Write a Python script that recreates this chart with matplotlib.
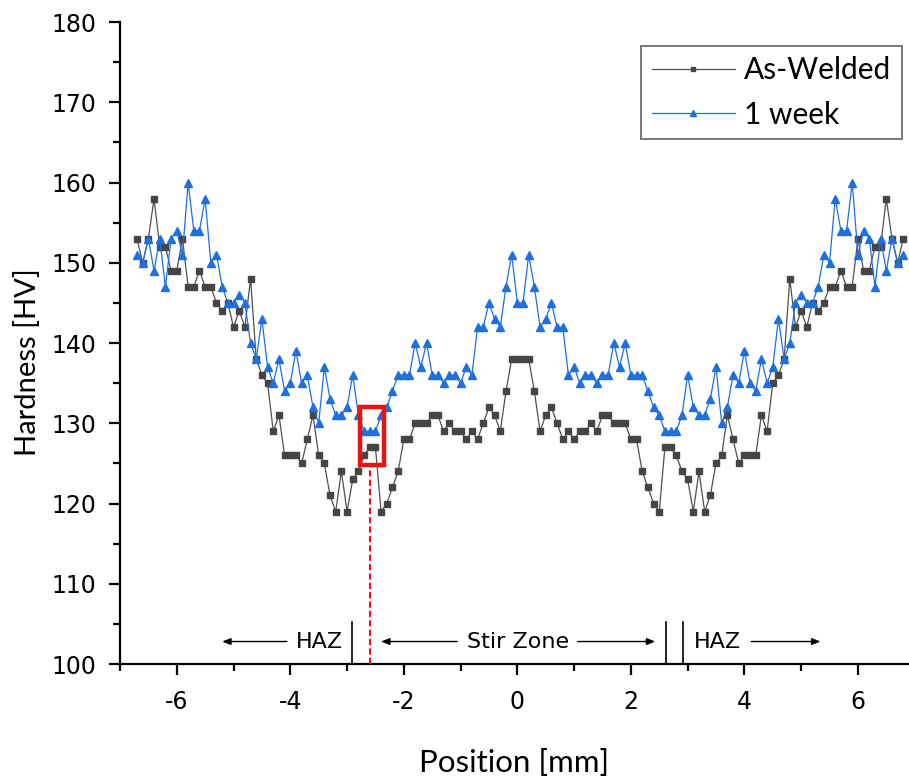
import matplotlib
matplotlib.use("Agg")
import matplotlib.pyplot as plt
import numpy as np
from matplotlib.ticker import MultipleLocator
from matplotlib.patches import Rectangle

plt.rcParams["axes.unicode_minus"] = False

# Position [mm]
position = [round(-6.7 + 0.1 * i, 1) for i in range(136)]

as_welded = [
    153, 150, 153, 158, 152, 152, 149, 149, 153, 147, 147, 149, 147, 147, 145, 144,
    145, 142, 144, 142, 148, 138, 136, 135, 129, 131, 126, 126, 126, 125, 128, 131,
    126, 125, 121, 119, 124, 119, 123, 124, 126, 127, 127, 119, 120, 122, 124, 128,
    128, 130, 130, 130, 131, 131, 129, 130, 129, 129, 128, 129, 128, 130, 132, 131,
    129, 134, 138, 138, 138, 138, 134, 129, 131, 132, 130, 128, 129, 128, 129, 129,
    130, 129, 131, 131, 130, 130, 130, 128, 128, 124, 122, 120, 119, 127, 127, 126,
    124, 123, 119, 124, 119, 121, 125, 126, 131, 128, 125, 126, 126, 126, 131, 129,
    135, 136, 138, 148, 142, 144, 142, 145, 144, 145, 147, 147, 149, 147, 147, 153,
    149, 149, 152, 152, 158, 153, 150, 153,
]

one_week = [
    151, 150, 153, 149, 153, 147, 153, 154, 151, 160, 154, 154, 158, 150, 151, 147,
    145, 145, 146, 145, 140, 138, 143, 137, 135, 138, 134, 135, 139, 135, 136, 132,
    130, 137, 133, 131, 131, 132, 136, 131, 129, 129, 129, 131, 132, 134, 136, 136,
    136, 140, 137, 140, 136, 136, 135, 136, 136, 135, 137, 136, 142, 142, 145, 143,
    142, 147, 151, 145, 145, 151, 147, 142, 143, 145, 142, 142, 136, 137, 135, 136,
    136, 135, 136, 136, 140, 137, 140, 136, 136, 136, 134, 132, 131, 129, 129, 129,
    131, 136, 132, 131, 131, 133, 137, 130, 132, 136, 135, 139, 135, 134, 138, 135,
    137, 143, 138, 140, 145, 146, 145, 145, 147, 151, 150, 158, 154, 154, 160, 151,
    154, 153, 147, 153, 149, 153, 150, 151,
]

series_labels = ["As-Welded", "1 week"]
zone_labels = ["HAZ", "Stir Zone", "HAZ"]
x_ticks = [-6, -4, -2, 0, 2, 4, 6]
y_ticks = [100, 110, 120, 130, 140, 150, 160, 170, 180]

fig = plt.figure(figsize=(9.09, 7.76), dpi=100)
ax = fig.add_axes([120 / 909, 112 / 776, 789 / 909, 642 / 776])

blue = "#1f6fe0"
ax.plot(position, as_welded, color="#505050", lw=0.9, marker="s", ms=4,
        mfc="#454545", mec="#454545", label=series_labels[0], zorder=3)
ax.plot(position, one_week, color=blue, lw=0.9, marker="^", ms=5.5,
        mfc=blue, mec=blue, label=series_labels[1], zorder=3)

ax.set_xlim(-7, 6.9)
ax.set_ylim(100, 180)
ax.set_xticks(x_ticks)
ax.set_yticks(y_ticks)
ax.xaxis.set_minor_locator(MultipleLocator(1))
ax.yaxis.set_minor_locator(MultipleLocator(5))
for s in ["top", "right"]:
    ax.spines[s].set_visible(False)
for s in ["left", "bottom"]:
    ax.spines[s].set_linewidth(1.6)
    ax.spines[s].set_color("black")
ax.tick_params(axis="both", which="major", direction="out", length=8, width=1.6,
               labelsize=17)
ax.tick_params(axis="x", which="major", pad=11)
ax.tick_params(axis="y", which="major", pad=9)
ax.tick_params(axis="both", which="minor", direction="out", length=5, width=1.6)
for lab in ax.get_xticklabels() + ax.get_yticklabels():
    lab.set_fontfamily("DejaVu Sans")

ax.set_xlabel("Position [mm]", fontsize=22.5, family="Lato")
ax.set_ylabel("Hardness [HV]", fontsize=21, family="Lato")
ax.xaxis.set_label_coords(0.5, -0.132)
ax.yaxis.set_label_coords(-0.1, 0.47)

leg = ax.legend(loc="upper right", bbox_to_anchor=(0.991, 0.963),
                prop={"family": "Lato", "size": 21.5}, frameon=True, fancybox=False,
                edgecolor="#555555", borderpad=0.35, handlelength=2.8,
                handletextpad=0.3, labelspacing=0.55, markerscale=0.7,
                borderaxespad=0.0)
leg.get_frame().set_linewidth(1.4)

# zone boundaries
for xv in [-2.92, 2.625, 2.92]:
    ax.plot([xv, xv], [100, 105.2], color="black", lw=1.2, zorder=4)

# red marker box and dashed line
ax.add_patch(Rectangle((-2.77, 124.8), 0.42, 7.2, fill=False, ec="#ee1111",
                       lw=3.2, zorder=5))
ax.plot([-2.59, -2.59], [100, 124.8], color="#ee1111", lw=1.5, ls=(0, (3, 1.5)),
        zorder=5)

# zone annotations
ty = 102.8
ax.text(-3.49, ty, zone_labels[0], ha="center", va="center", fontsize=16,
        family="DejaVu Sans")
ax.text(0.02, ty, zone_labels[1], ha="center", va="center", fontsize=16,
        family="DejaVu Sans")
ax.text(3.52, ty, zone_labels[2], ha="center", va="center", fontsize=16,
        family="DejaVu Sans")
arr = dict(arrowstyle="-|>,head_length=0.5,head_width=0.2", color="black", lw=1.0,
           shrinkA=0, shrinkB=0)
ax.annotate("", xy=(-5.2, ty), xytext=(-4.06, ty), arrowprops=arr)
ax.annotate("", xy=(-2.4, ty), xytext=(-1.06, ty), arrowprops=arr)
ax.annotate("", xy=(2.43, ty), xytext=(1.06, ty), arrowprops=arr)
ax.annotate("", xy=(5.34, ty), xytext=(4.12, ty), arrowprops=arr)

fig.savefig("out.png", dpi=100)
